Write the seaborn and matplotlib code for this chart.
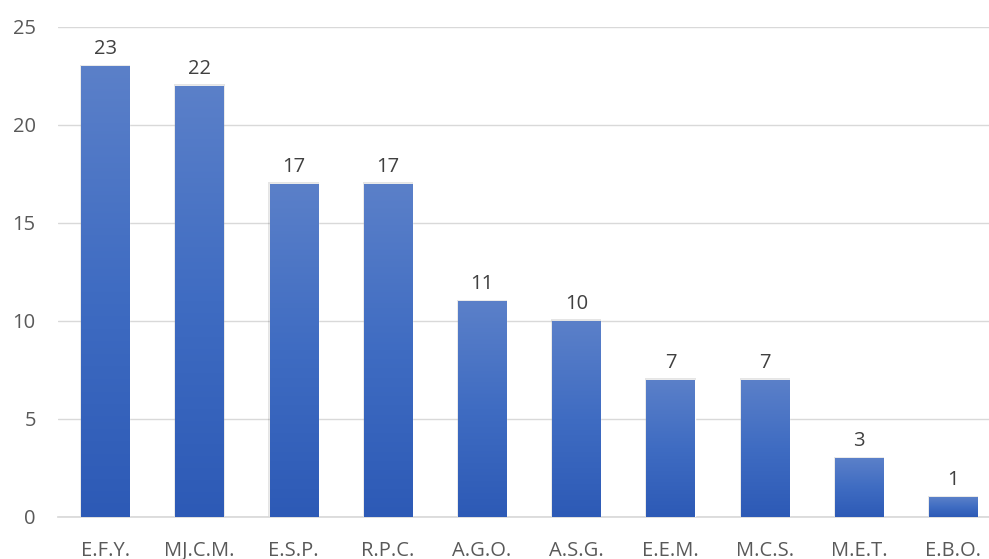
import numpy as np
import pandas as pd
import matplotlib
matplotlib.use("Agg")
import matplotlib.pyplot as plt
import seaborn as sns
from matplotlib.colors import LinearSegmentedColormap
from matplotlib.patches import Rectangle

categories = ["E.F.Y.", "MJ.C.M.", "E.S.P.", "R.P.C.", "A.G.O.",
              "A.S.G.", "E.E.M.", "M.C.S.", "M.E.T.", "E.B.O."]
counts = [23, 22, 17, 17, 11, 10, 7, 7, 3, 1]
y_ticks = [0, 5, 10, 15, 20, 25]

sns.set_theme(style="white")
plt.rcParams["font.family"] = ["Open Sans", "DejaVu Sans"]

df = pd.DataFrame({"name": categories, "count": counts})

fig = plt.figure(figsize=(9.89, 5.59), dpi=100)
ax = fig.add_axes([58 / 989, (559 - 517) / 559, (989 - 58) / 989, 490 / 559])

sns.barplot(data=df, x="name", y="count", color="#4470C4", width=0.51,
            saturation=1, ax=ax, zorder=3)

grad = LinearSegmentedColormap.from_list("bar", ["#2D5AB6", "#3F6CC2", "#5B80C9"])
col = np.linspace(0, 1, 256).reshape(-1, 1)
for p in ax.patches:
    x0, w, h = p.get_x(), p.get_width(), p.get_height()
    # soft shadow behind each bar
    ax.add_patch(Rectangle((x0 - 0.012, 0), w + 0.024, h + 0.08,
                           facecolor="#000000", alpha=0.10, lw=0, zorder=2.5))
    im = ax.imshow(col, cmap=grad, origin="lower", aspect="auto",
                   extent=(x0, x0 + w, 0, h), zorder=3.5)
    im.set_clip_path(p)

ax.bar_label(ax.containers[0], labels=[str(v) for v in counts], padding=5,
             fontsize=14.5, color="#404040")

ax.set_xlim(-0.5, 9.38)
ax.set_ylim(0, 25)
ax.set_yticks(y_ticks)
ax.yaxis.grid(True, color="#D9D9D9", linewidth=1, zorder=0)
ax.set_axisbelow(True)
for s in ["top", "right", "left"]:
    ax.spines[s].set_visible(False)
ax.spines["bottom"].set_color("#D9D9D9")
ax.tick_params(axis="y", length=0, pad=16, labelsize=14.5, labelcolor="#595959")
ax.tick_params(axis="x", length=0, pad=17, labelsize=14.5, labelcolor="#595959")
ax.set_xlabel("")
ax.set_ylabel("")

fig.savefig("out.png", dpi=100)
